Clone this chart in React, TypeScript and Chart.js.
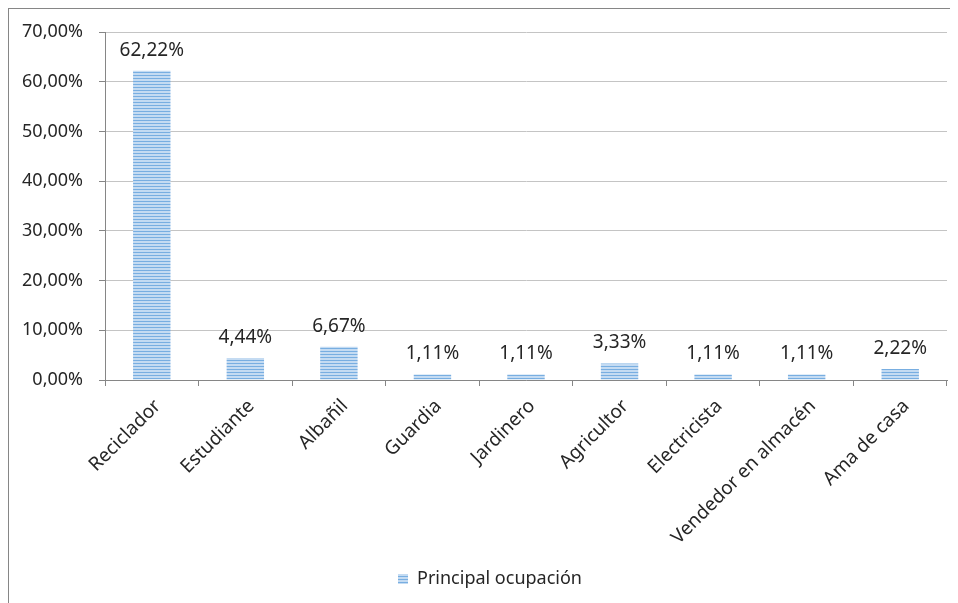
import React, { useEffect, useRef } from "react";
import { Chart, registerables } from "chart.js";

Chart.register(...registerables);

const categories = [
  "Reciclador",
  "Estudiante",
  "Albañil",
  "Guardia",
  "Jardinero",
  "Agricultor",
  "Electricista",
  "Vendedor en almacén",
  "Ama de casa",
];
const values = [62.22, 4.44, 6.67, 1.11, 1.11, 3.33, 1.11, 1.11, 2.22];
const seriesName = "Principal ocupación";
const yMin = 0;
const yMax = 70;
const yStep = 10;

const FONT = "'Noto Sans', 'Open Sans', sans-serif";
const FS = 18;
const FS_BIG = 19;
const TEXT = "#262626";
const AXIS = "#868686";
const GRID = "#C4C4C4";

const W = 941;
const H = 599;

const fmt = (v: number) => v.toFixed(2).replace(".", ",") + "%";

function makePattern(): CanvasPattern | string {
  const c = document.createElement("canvas");
  c.width = 4;
  c.height = 3;
  const g = c.getContext("2d");
  if (!g) return "#9DC3E6";
  g.fillStyle = "#C4DBF2";
  g.fillRect(0, 0, 4, 3);
  g.fillStyle = "#78AEE1";
  g.fillRect(0, 0, 4, 1);
  const p = g.createPattern(c, "repeat");
  return p || "#9DC3E6";
}

const dataLabels = {
  id: "dataLabels",
  afterDatasetsDraw(chart: any) {
    const ctx = chart.ctx;
    const meta = chart.getDatasetMeta(0);
    ctx.save();
    ctx.font = `${FS_BIG}px ${FONT}`;
    ctx.fillStyle = TEXT;
    ctx.textAlign = "center";
    ctx.textBaseline = "alphabetic";
    meta.data.forEach((bar: any, i: number) => {
      ctx.fillText(fmt(values[i]), bar.x, bar.y - 15);
    });
    ctx.restore();
  },
};

const shiftLegend = {
  id: "shiftLegend",
  afterLayout(chart: any) {
    const l = chart.legend;
    if (l) l.left += 24;
  },
};

export default function App() {
  const ref = useRef<HTMLCanvasElement>(null);

  useEffect(() => {
    if (!ref.current) return;
    const pattern = makePattern();
    const chart = new Chart(ref.current, {
      type: "bar",
      data: {
        labels: categories,
        datasets: [
          {
            label: seriesName,
            data: values,
            backgroundColor: pattern as any,
            borderWidth: 0,
            barPercentage: 0.4,
            categoryPercentage: 1,
          },
        ],
      },
      options: {
        animation: false,
        responsive: false,
        devicePixelRatio: 1,
        layout: { padding: { left: 0, right: 3, top: 23, bottom: 10 } },
        plugins: {
          legend: {
            position: "bottom",
            labels: {
              boxWidth: 10,
              boxHeight: 10,
              padding: 10,
              color: TEXT,
              font: { family: FONT, size: FS },
            },
          },
          tooltip: { enabled: false },
        },
        scales: {
          x: {
            offset: true,
            grid: {
              display: true,
              drawOnChartArea: false,
              offset: true,
              tickLength: 6,
              tickColor: AXIS,
              color: AXIS,
            },
            border: { color: AXIS, width: 1 },
            ticks: {
              color: TEXT,
              font: { family: FONT, size: FS_BIG },
              maxRotation: 45,
              minRotation: 45,
              autoSkip: false,
              padding: 9,
              labelOffset: 6,
            },
            afterFit(scale: any) {
              scale.height = 180;
            },
          },
          y: {
            min: yMin,
            max: yMax,
            ticks: {
              stepSize: yStep,
              color: TEXT,
              font: { family: FONT, size: FS },
              padding: 16,
              callback: (v: any) => fmt(Number(v)),
            },
            grid: {
              color: GRID,
              tickColor: AXIS,
              tickLength: 6,
            },
            border: { color: AXIS, width: 1 },
            afterFit(scale: any) {
              scale.width = 96;
              scale.paddingTop = 0;
              scale.paddingBottom = 0;
            },
          },
        },
      },
      plugins: [dataLabels, shiftLegend],
    });
    return () => chart.destroy();
  }, []);

  return (
    <div
      style={{
        boxSizing: "border-box",
        width: W + 1,
        height: H + 1,
        borderLeft: "1px solid #868686",
        borderTop: "1px solid #868686",
        background: "#fff",
      }}
    >
      <canvas
        ref={ref}
        width={W}
        height={H}
        style={{ display: "block", width: W, height: H }}
      />
    </div>
  );
}
